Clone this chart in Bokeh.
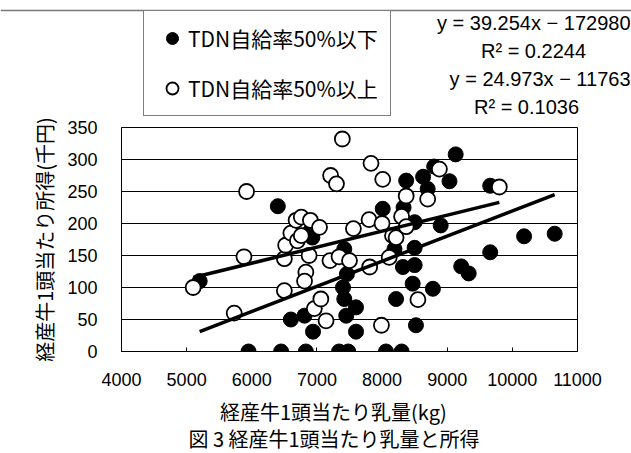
import math
from bokeh.plotting import figure
from bokeh.layouts import column
from bokeh.models import (ColumnDataSource, Legend, LegendItem, Label, Range1d,
                          SingleIntervalTicker, Span, Title)
from bokeh.embed import file_html
from bokeh.resources import INLINE

# TDN自給率50%以下 (filled)
low_x = [5200, 5950, 6400, 6450, 6600, 6810, 6940, 6830, 6880, 6930, 7340, 7480,
         7400, 7420, 7420, 7450, 7460, 7600, 7600, 8010, 8060, 8190, 8215, 8300,
         8320, 8370, 8470, 8500, 8500, 8500, 8520, 8630, 8700, 8780, 8800, 8900,
         9035, 9130, 9215, 9330, 9660, 9660, 10180, 10650, 8330]
low_y = [110, 0, 227, 0, 50, 56, 31, 0, 186, 178, 0, 0,
         100, 82, 160, 56, 121, 69, 31, 223, 0, 160, 82, 0,
         132, 267, 106, 135, 162, 202, 41, 273, 254, 98, 289, 197,
         266, 308, 133, 122, 155, 259, 180, 184, 225]

# TDN自給率50%以上 (open)
high_x = [5100, 5730, 5880, 5920, 6500, 6500, 6520, 6600, 6680, 6700, 6760, 6760,
          6830, 6810, 6880, 6900, 7040, 6960, 7060, 7140, 7200, 7340, 7500, 7210,
          7300, 7390, 7560, 7800, 7830, 7810, 7990, 8010, 8000, 8110, 8160, 8215,
          8300, 8370, 8370, 8550, 8700, 8880, 9800]
high_y = [100, 60, 148, 250, 95, 145, 166, 185, 205, 173, 210, 181,
          124, 110, 150, 205, 194, 67, 82, 48, 142, 148, 142, 275,
          262, 332, 192, 206, 294, 132, 41, 269, 200, 147, 181, 178,
          211, 195, 243, 81, 238, 285, 257]

# trendlines (y in yen, x in kg) -> plotted in thousand yen
low_slope, low_icpt = 39.254, -172980
high_slope, high_icpt = 24.973, -11763

x_ticks_interval = 1000
y_ticks_interval = 50

eq_low = "y = 39.254x − 172980"
r2_low = "R² = 0.2244"
eq_high = "y = 24.973x − 11763"
r2_high = "R² = 0.1036"
legend_low = "TDN自給率50%以下"
legend_high = "TDN自給率50%以上"
x_title = "経産牛1頭当たり乳量(kg)"
y_title = "経産牛1頭当たり所得(千円)"
caption = "図  3  経産牛1頭当たり乳量と所得"

JP = "Noto Sans CJK JP"
NUM = "Liberation Sans"
W = 631
TOP_H = 118


def blank(h):
    f = figure(width=W, height=h, output_backend="svg", toolbar_location=None,
               x_range=Range1d(0, W), y_range=Range1d(0, h),
               min_border=0, min_border_left=0, min_border_right=0,
               min_border_top=0, min_border_bottom=0)
    f.axis.visible = False
    f.grid.visible = False
    f.outline_line_color = None
    f.background_fill_color = "white"
    f.border_fill_color = "white"
    try:
        f.frame_align = False
    except Exception:
        pass
    return f


def lab(f, text, x, y, font=NUM, size="20px", align="center", angle=0):
    f.add_layout(Label(x=x, y=y, x_units="screen", y_units="screen", text=text,
                       text_font=font, text_font_size=size, text_color="black",
                       text_align=align, text_baseline="middle", angle=angle))


# ---------------- main plot ----------------
p = figure(width=W, height=279, output_backend="svg", toolbar_location=None,
           x_range=Range1d(4000, 11000), y_range=Range1d(0, 350),
           min_border_left=121, min_border_right=54, min_border_top=9,
           min_border_bottom=46)
p.background_fill_color = "white"
p.border_fill_color = "white"
p.outline_line_color = "black"
p.outline_line_width = 1

p.xgrid.visible = False
p.ygrid.grid_line_color = "black"
p.ygrid.grid_line_width = 1
p.ygrid.ticker = SingleIntervalTicker(interval=y_ticks_interval)

p.xaxis.ticker = SingleIntervalTicker(interval=x_ticks_interval, num_minor_ticks=0)
p.yaxis.ticker = SingleIntervalTicker(interval=y_ticks_interval, num_minor_ticks=0)
for ax in (p.xaxis, p.yaxis):
    ax.axis_line_color = "black"
    ax.major_label_text_font = NUM
    ax.major_label_text_font_size = "18px"
    ax.major_label_text_color = "black"
    ax.minor_tick_line_color = None
    ax.major_tick_out = 0
p.xaxis.major_tick_in = 4
p.xaxis.major_tick_line_color = "black"
p.yaxis.major_tick_in = 0
p.yaxis.major_tick_line_color = None
p.xaxis.major_label_standoff = 21
p.yaxis.major_label_standoff = 24

# y-axis title as a left-side title, shifted slightly down like the reference
p.add_layout(Title(text=y_title, align="center", offset=-14, standoff=11,
                   text_font=JP, text_font_size="20px", text_font_style="normal",
                   text_color="black"), "left")

src_low = ColumnDataSource(dict(x=low_x, y=low_y))
src_high = ColumnDataSource(dict(x=high_x, y=high_y))

r_low = p.scatter("x", "y", source=src_low, size=15, marker="circle",
                  fill_color="black", line_color="black", line_width=1)
r_high = p.scatter("x", "y", source=src_high, size=15, marker="circle",
                   fill_color="white", line_color="black", line_width=1.8)

lx = [min(low_x), max(low_x)]
ly = [(low_slope * v + low_icpt) / 1000 for v in lx]
hx = [min(high_x), max(high_x)]
hy = [(high_slope * v + high_icpt) / 1000 for v in hx]
p.line(lx, ly, line_color="black", line_width=3.5)
p.line(hx, hy, line_color="black", line_width=3.5)

# ---------------- top strip: legend + equations ----------------
top = blank(TOP_H)
top.add_layout(Span(location=TOP_H - 10, dimension="width", line_color="#777777",
                    line_width=1.5))
t_low = top.scatter([-100], [-100], size=12, marker="circle",
                    fill_color="black", line_color="black")
t_high = top.scatter([-100], [-100], size=12, marker="circle",
                     fill_color="white", line_color="black", line_width=1.8)
legend = Legend(items=[LegendItem(label=legend_low, renderers=[t_low]),
                       LegendItem(label=legend_high, renderers=[t_high])],
                location=(143, 2))
legend.label_text_font = JP
legend.label_text_font_size = "21px"
legend.label_text_color = "black"
legend.glyph_width = 32
legend.glyph_height = 30
legend.label_standoff = 0
legend.label_height = 30
legend.padding = 12
legend.spacing = 20
legend.margin = 0
legend.border_line_color = "black"
legend.border_line_width = 1
legend.background_fill_color = "white"
legend.background_fill_alpha = 1
top.add_layout(legend)

lab(top, eq_low, 630, TOP_H - 22, align="right")
lab(top, r2_low, 533, TOP_H - 50)
lab(top, eq_high, 630, TOP_H - 78, align="right")
lab(top, r2_high, 526, TOP_H - 106)

# ---------------- bottom strip: x title + caption ----------------
bot = blank(56)
lab(bot, x_title, 333, 42, font=JP, size="20px")
lab(bot, caption, 338, 15, font=JP, size="20px")

layout = column(top, p, bot, spacing=0)
open("out.html", "w").write(file_html(layout, INLINE))
